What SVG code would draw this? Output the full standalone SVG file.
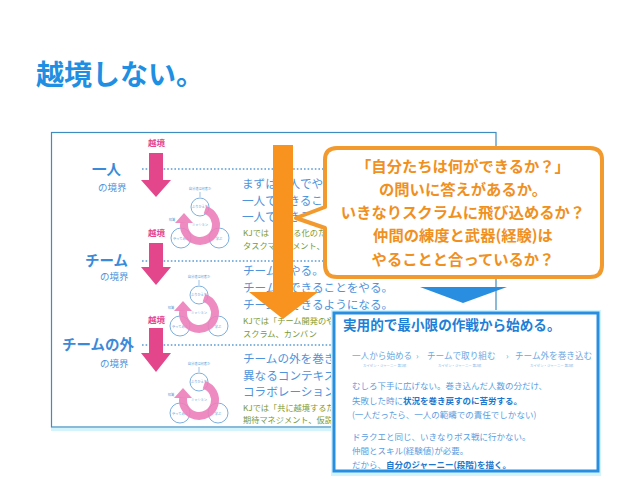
<svg xmlns="http://www.w3.org/2000/svg" xmlns:xlink="http://www.w3.org/1999/xlink" width="638" height="479" viewBox="0 0 638 479">
<style>
text{font-family:"Noto Sans CJK JP","Noto Sans",sans-serif}
.title{font-size:28px;font-weight:bold;fill:#1e8fe3}
.lbl{font-size:14.5px;font-weight:bold;fill:#3b8ad9}
.sub{font-size:9.5px;fill:#4d94dc}
.ek{font-size:8.5px;font-weight:bold;fill:#e4468c}
.row{font-size:11.6px;fill:#4d94dc}
.kj{font-size:8.2px;fill:#7b9a34}
.dot{stroke:#5b9bd5;stroke-width:1.6;stroke-dasharray:1.6 2;fill:none}
.pink{fill:#e4468c}
.bub{font-size:15.3px;font-weight:bold;fill:#f0901e;text-anchor:middle}
.bt{font-size:13.6px;font-weight:bold;fill:#1f7fd6}
.st{font-size:8.6px;fill:#6aa8e2}
.tiny{font-size:3.4px;fill:#8ab8e6}
.pt{font-size:8.5px;fill:#5c9de0}
.pb{font-weight:bold;fill:#2176cc}
.cc{fill:#fff;stroke:#5b9bd5;stroke-width:0.8}
.ct{font-size:3.2px;fill:#5b9bd5;text-anchor:middle}
</style>
<defs>
<g id="cyc">
<text class="ct" x="0" y="-35">自分達は何者か</text>
<line x1="0" y1="-33" x2="0" y2="-28" stroke="#5b9bd5" stroke-width="0.6"/>
<circle class="cc" cx="0" cy="-18" r="9"/>
<circle class="cc" cx="-19" cy="13" r="10"/>
<circle class="cc" cx="19" cy="13" r="10"/>
<text class="ct" x="0" y="-17">ふりかえり</text>
<text class="ct" x="-19" y="15">やってみる</text>
<text class="ct" x="19" y="15">学ぶ</text>
<text class="ct" x="-28" y="-4">知識</text>
<path d="M5,-15.2 A16,16 0 1 1 -15.8,-2.5" fill="none" stroke="#ec7fba" stroke-width="8" opacity="0.9"/>
<polygon points="-25,-2 -7,-2 -16,-12" fill="#ec7fba" opacity="0.9"/>
<text class="ct" x="0" y="1">ミッション</text>
</g>
</defs>
<rect width="638" height="479" fill="#fff"/>
<text class="title" x="36" y="85">越境しない。</text>

<g id="panel">
<rect x="51" y="428" width="282" height="3" fill="#d3f3fd"/>
<rect x="51.5" y="132.5" width="444.5" height="294.5" fill="#fff" stroke="#3e8cc0" stroke-width="1.2"/>
</g>

<g id="connectors">
<line class="dot" x1="142" y1="169" x2="495" y2="169"/>
<line class="dot" x1="142" y1="261" x2="495" y2="261"/>
<line class="dot" x1="142" y1="345" x2="495" y2="345"/>
<text class="ek" x="148" y="146">越境</text>
<polygon class="pink" points="149,153 163,153 163,180 171,180 156,197 141,180 149,180"/>
<text class="ek" x="148" y="236">越境</text>
<polygon class="pink" points="149,243 163,243 163,267 171,267 156,285 141,267 149,267"/>
<text class="ek" x="148" y="323">越境</text>
<polygon class="pink" points="149,328 163,328 163,353 171,353 156,372 141,353 149,353"/>
</g>

<g id="row1">
<text class="lbl" x="92" y="175">一人</text>
<text class="sub" x="98" y="191">の境界</text>
<use xlink:href="#cyc" x="200" y="225"/>
<text class="row" x="242" y="188">まずは一人でやる</text>
<text class="row" x="242" y="204.5">一人でできること</text>
<text class="row" x="242" y="221">一人でできるよう</text>
<text class="kj" x="243" y="236">KJでは「見える化のため</text>
<text class="kj" x="243" y="248.5">タスクマネジメント、</text>
</g>

<g id="row2">
<text class="lbl" x="85" y="265.5">チーム</text>
<text class="sub" x="100" y="279.5">の境界</text>
<use xlink:href="#cyc" x="199" y="313"/>
<text class="row" x="243" y="274.5">チームでやる。</text>
<text class="row" x="243" y="291.5">チームでできることをやる。</text>
<text class="row" x="243" y="308.5">チームでできるようになる。</text>
<text class="kj" x="243" y="324">KJでは「チーム開発のや</text>
<text class="kj" x="243" y="336.5">スクラム、カンバン</text>
</g>

<g id="row3">
<text class="lbl" x="62" y="350">チームの外</text>
<text class="sub" x="100" y="367">の境界</text>
<use xlink:href="#cyc" x="199" y="400"/>
<text class="row" x="243" y="363">チームの外を巻き込</text>
<text class="row" x="243" y="379.5">異なるコンテキス</text>
<text class="row" x="243" y="396">コラボレーション</text>
<text class="kj" x="243" y="411">KJでは「共に越境するため</text>
<text class="kj" x="243" y="423">期待マネジメント、仮説</text>
</g>

<g id="orange-arrow">
<polygon points="273,145 293,145 293,292 318,292 283,319 249,292 273,292" fill="#f7931e"/>
</g>

<g id="bubble">
<path d="M337,148 H590 Q602,148 602,160 V265 Q602,277 590,277 H337 Q325,277 325,265 V228 L296,218 L325,207 V160 Q325,148 337,148 Z" fill="#fff" stroke="#f29a2e" stroke-width="4" stroke-linejoin="round"/>
<text class="bub" x="463" y="171.5">「自分たちは何ができるか？」</text>
<text class="bub" x="463" y="194.8">の問いに答えがあるか。</text>
<text class="bub" x="463" y="218.1">いきなりスクラムに飛び込めるか？</text>
<text class="bub" x="463" y="241.4">仲間の練度と武器(経験)は</text>
<text class="bub" x="463" y="264.7">やることと合っているか？</text>
</g>

<g id="blue-arrow">
<polygon points="420,287 507,287 463,303" fill="#2a8ee0"/>
</g>

<g id="strategy">
<rect x="331" y="310" width="270" height="166" fill="#d3f3fd"/>
<rect x="334" y="313" width="264" height="158" fill="#fff" stroke="#2a8ee0" stroke-width="3"/>
<text class="bt" x="343" y="330">実用的で最小限の作戦から始める。</text>
<text class="st" x="352" y="359">一人から始める</text>
<text class="st" x="416" y="359">›</text>
<text class="st" x="427" y="359">チームで取り組む</text>
<text class="st" x="506" y="359">›</text>
<text class="st" x="515" y="359">チーム外を巻き込む</text>
<text class="tiny" x="363" y="367">カイゼン・ジャーニー 第1部</text>
<text class="tiny" x="438" y="367">カイゼン・ジャーニー 第2部</text>
<text class="tiny" x="530" y="367">カイゼン・ジャーニー 第3部</text>
<text class="pt" x="352" y="389">むしろ下手に広げない。巻き込んだ人数の分だけ、</text>
<text class="pt" x="352" y="403.5">失敗した時に<tspan class="pb">状況を巻き戻すのに苦労する。</tspan></text>
<text class="pt" x="352" y="418">(一人だったら、一人の範疇での責任でしかない)</text>
<text class="pt" x="352" y="440">ドラクエと同じ、いきなりボス戦に行かない。</text>
<text class="pt" x="352" y="454">仲間とスキル(経験値)が必要。</text>
<text class="pt" x="352" y="468">だから、<tspan class="pb">自分のジャーニー(段階)を描く。</tspan></text>
</g>
</svg>
